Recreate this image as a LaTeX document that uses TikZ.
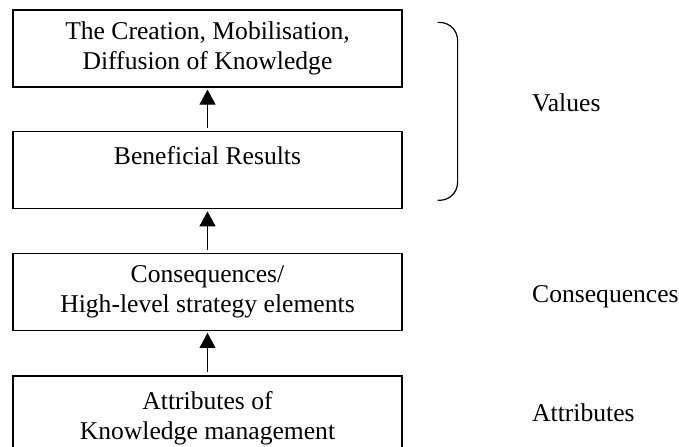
\documentclass[tikz,border=0pt]{standalone}
\usepackage{fontspec}
\setmainfont{Liberation Serif}
\usetikzlibrary{arrows.meta,positioning,calc}

\begin{document}
\begin{tikzpicture}[
  x=1bp, y=1bp,
  font=\fontsize{25.7}{30}\selectfont,
  level/.style={draw=black,line width=1.2bp,minimum width=389bp,minimum height=77bp,
                align=center,inner sep=0pt},
  up/.style={draw=black,line width=1bp,-{Triangle[length=15bp,width=16bp]},
             shorten >=2bp,shorten <=3bp},
  brace/.style={draw=black,line width=1.2bp,rounded corners=18bp},
  tag/.style={anchor=base west,inner sep=0pt}
]
\useasboundingbox (0,0) rectangle (679,447);

% ---- levels ----
\node[level] (know) at (207.5,398.5) {The Creation, Mobilisation,\\ Diffusion of Knowledge};
\node[level,below=43.5bp of know]   (result)  {Beneficial Results\\ \mbox{}};
\node[level,below=43.5bp of result] (conseq)  {Consequences/\\ High-level strategy elements};
\node[level,below=44.5bp of conseq,minimum height=80bp,text depth=1.5bp] (attrib)
  {Attributes of\\ Knowledge management};

% ---- arrows ----
\draw[up] (result) -- (know);
\draw[up] (conseq) -- (result);
\draw[up] (attrib) -- (conseq);

% ---- brace round the two top levels ----
\coordinate (btop) at ($(know.north east)+(35,-13)$);
\coordinate (bbot) at ($(result.south east)+(35,9)$);
\draw[brace] (btop) -- ++(20,0) |- (bbot);

% ---- labels ----
\node[tag] (values)   at (532,335) {Values};
\node[tag] (conslbl)  at (532,144) {Consequences};
\node[tag] (attrlbl)  at (532,25)  {Attributes};

\end{tikzpicture}
\end{document}
